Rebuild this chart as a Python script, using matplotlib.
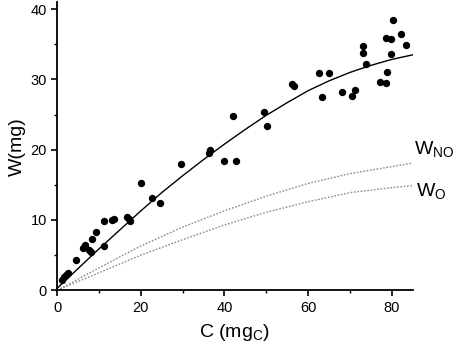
import matplotlib
matplotlib.use("Agg")
import matplotlib.pyplot as plt
from matplotlib.ticker import MultipleLocator

plt.rcParams['font.family'] = ['Liberation Sans', 'DejaVu Sans']

# measured points
c_meas = [1.1, 1.7, 2.2, 2.6, 4.4, 6.1, 6.7, 7.7, 8.1, 8.4, 9.2, 11.2, 11.3,
          13.2, 13.6, 16.7, 17.1, 17.5, 20.0, 22.7, 24.5, 29.7, 36.2, 36.6,
          39.8, 42.0, 42.7, 49.4, 50.1, 56.1, 56.7, 62.5, 63.3, 65.1, 68.0,
          70.6, 71.3, 73.0, 73.0, 73.9, 77.3, 78.5, 78.9, 78.6, 79.8, 79.9,
          80.2, 82.1, 83.3]
w_meas = [1.5, 1.9, 2.2, 2.4, 4.35, 6.0, 6.45, 5.8, 5.5, 7.3, 8.3, 6.25, 9.85,
          10.0, 10.1, 10.4, 10.1, 9.85, 15.3, 13.2, 12.4, 17.9, 19.5, 19.95,
          18.4, 24.8, 18.4, 25.4, 23.4, 29.3, 29.0, 30.9, 27.45, 30.95, 28.2,
          27.7, 28.5, 34.8, 33.7, 32.2, 29.7, 29.5, 31.1, 35.9, 35.7, 33.65,
          38.5, 36.4, 34.9]

# fitted curve
c_fit = [0, 5, 10, 15, 20, 25, 30, 35, 40, 45, 50, 55, 60, 65, 70, 75, 80, 85]
w_fit = [0.3, 3.1, 5.9, 8.6, 11.3, 13.9, 16.3, 18.6, 20.8, 22.9, 24.9, 26.7,
         28.4, 29.8, 31.0, 32.0, 32.85, 33.5]

# model curves
c_mod = [0, 10, 20, 30, 40, 50, 60, 70, 80, 85]
w_no = [0, 3.2, 6.3, 9.0, 11.3, 13.4, 15.2, 16.6, 17.6, 18.1]
w_o = [0, 2.5, 5.0, 7.2, 9.3, 11.1, 12.6, 13.9, 14.6, 14.9]

fig = plt.figure(figsize=(4.54, 3.54), dpi=100)
ax = fig.add_axes([0.126, 0.18, 0.783, 0.814])

ax.plot(c_mod, w_no, linestyle=(0, (1.2, 1.2)), color="#8c8c8c", lw=1.0)
ax.plot(c_mod, w_o, linestyle=(0, (1.2, 1.2)), color="#8c8c8c", lw=1.0)
ax.plot(c_fit, w_fit, color="black", lw=1.0)
ax.plot(c_meas, w_meas, "o", color="black", ms=5.3, mew=0)

ax.text(85.3, 20.0, "W$_{\\mathregular{NO}}$", fontsize=14, va="center", ha="left", clip_on=False)
ax.text(85.8, 14.0, "W$_{\\mathregular{O}}$", fontsize=14, va="center", ha="left", clip_on=False)

ax.set_xlim(0, 85)
ax.set_ylim(0, 41)
ax.xaxis.set_major_locator(MultipleLocator(20))
ax.xaxis.set_minor_locator(MultipleLocator(10))
ax.yaxis.set_major_locator(MultipleLocator(10))
ax.yaxis.set_minor_locator(MultipleLocator(5))
ax.tick_params(which="major", direction="out", length=4, width=1.2, labelsize=10.5)
ax.tick_params(which="minor", direction="out", length=2.5, width=1.0)

for s in ["top", "right"]:
    ax.spines[s].set_visible(False)
for s in ["left", "bottom"]:
    ax.spines[s].set_linewidth(1.3)

ax.set_xlabel("C (mg$_{\\mathregular{C}}$)", fontsize=14, labelpad=5)
ax.set_ylabel("W(mg)", fontsize=14, labelpad=3)

fig.savefig("out.png", dpi=100)
